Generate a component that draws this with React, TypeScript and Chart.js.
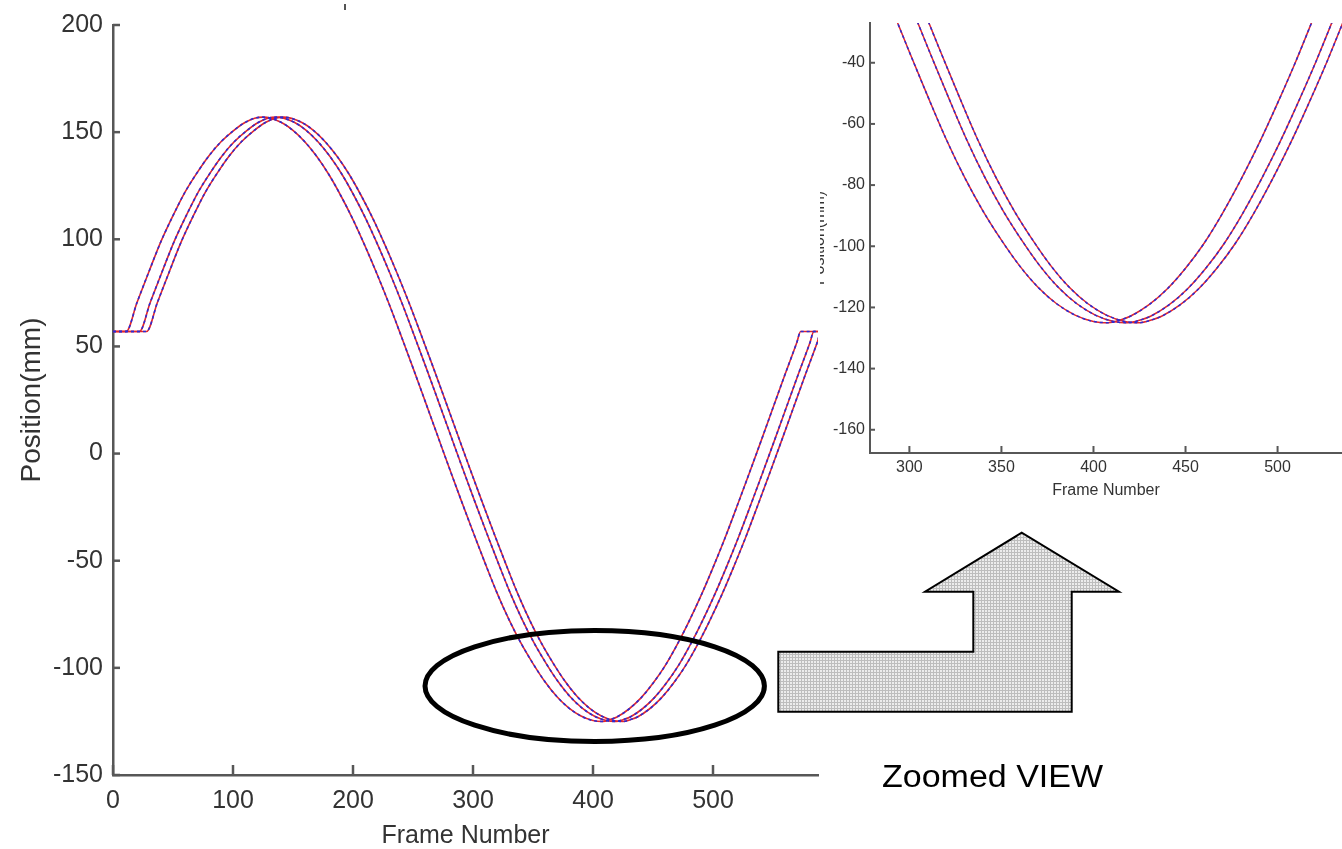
import React, { useEffect, useRef } from "react";
import { Chart, registerables } from "chart.js";

Chart.register(...registerables);

// ---- data ----
// Frame numbers at which each trajectory was sampled
const framesA = [0, 11, 20, 30, 40, 50, 60, 70, 80, 90, 100, 110, 118, 125, 140, 150, 160, 170, 180, 190, 200, 210, 220, 230, 240, 250, 260, 270, 280, 290, 300, 310, 320, 330, 340, 350, 360, 370, 380, 390, 400, 408, 415, 420, 430, 440, 450, 460, 470, 480, 490, 500, 510, 520, 530, 540, 550, 560, 570, 573, 600];
const framesB = [0, 22, 31, 41, 51, 61, 71, 81, 91, 101, 111, 121, 129, 136, 151, 161, 171, 181, 191, 201, 211, 221, 231, 241, 251, 261, 271, 281, 291, 301, 311, 321, 331, 341, 351, 361, 371, 381, 391, 401, 411, 419, 426, 431, 441, 451, 461, 471, 481, 491, 501, 511, 521, 531, 541, 551, 561, 571, 581, 584, 600];
const framesC = [0, 28, 37, 47, 57, 67, 77, 87, 97, 107, 117, 127, 135, 142, 157, 167, 177, 187, 197, 207, 217, 227, 237, 247, 257, 267, 277, 287, 297, 307, 317, 327, 337, 347, 357, 367, 377, 387, 397, 407, 417, 425, 432, 437, 447, 457, 467, 477, 487, 497, 507, 517, 527, 537, 547, 557, 567, 577, 587, 590, 600];

// Position (mm) of each trajectory at those frames
const positionA = [57, 57, 70.5, 85, 99, 111, 122, 131, 139, 145.5, 150.5, 154.5, 156.5, 157, 154.6, 150.8, 145.4, 138.5, 130.1, 120.2, 109.2, 96.9, 83.8, 69.9, 55.1, 40, 24.6, 9.1, -6.4, -21.6, -36.5, -51, -65, -77.5, -88.5, -98, -106.5, -113.5, -118.8, -122.5, -124.6, -125, -124, -122.9, -119.2, -114, -107.2, -99.1, -89.3, -78.3, -66.3, -53.2, -39.4, -24.6, -9.5, 5.8, 21.4, 36.9, 52.1, 57, 57];
const positionB = [57, 57, 70.5, 85, 99, 111, 122, 131, 139, 145.5, 150.5, 154.5, 156.5, 157, 154.6, 150.8, 145.4, 138.5, 130.1, 120.2, 109.2, 96.9, 83.8, 69.9, 55.1, 40, 24.6, 9.1, -6.4, -21.6, -36.5, -51, -65, -77.5, -88.5, -98, -106.5, -113.5, -118.8, -122.5, -124.6, -125, -124, -122.9, -119.2, -114, -107.2, -99.1, -89.3, -78.3, -66.3, -53.2, -39.4, -24.6, -9.5, 5.8, 21.4, 36.9, 52.1, 57, 57];
const positionC = [57, 57, 70.5, 85, 99, 111, 122, 131, 139, 145.5, 150.5, 154.5, 156.5, 157, 154.6, 150.8, 145.4, 138.5, 130.1, 120.2, 109.2, 96.9, 83.8, 69.9, 55.1, 40, 24.6, 9.1, -6.4, -21.6, -36.5, -51, -65, -77.5, -88.5, -98, -106.5, -113.5, -118.8, -122.5, -124.6, -125, -124, -122.9, -119.2, -114, -107.2, -99.1, -89.3, -78.3, -66.3, -53.2, -39.4, -24.6, -9.5, 5.8, 21.4, 36.9, 52.1, 57, 57];

// Tick labels
const mainXTicks = [0, 100, 200, 300, 400, 500];
const mainYTicks = [-150, -100, -50, 0, 50, 100, 150, 200];
const zoomXTicks = [300, 350, 400, 450, 500];
const zoomYTicks = [-160, -140, -120, -100, -80, -60, -40];

const FONT = "'Liberation Sans', Arial, Helvetica, sans-serif";
const AXIS = "#575757";
const TEXT = "#333333";
const RED = "#e2262c";
const BLUE = "#2b2bd4";

function buildDatasets(width: number) {
  const series: [number[], number[]][] = [
    [framesA, positionA],
    [framesB, positionB],
    [framesC, positionC],
  ];
  const blue: any[] = [];
  const red: any[] = [];
  series.forEach(([fr, vals]) => {
    const pts = fr.map((f, i) => ({ x: f, y: vals[i] }));
    red.push({
      data: pts,
      showLine: true,
      borderColor: RED,
      borderWidth: width,
      pointRadius: 0,
      cubicInterpolationMode: "monotone",
      fill: false,
    });
    blue.push({
      data: pts,
      showLine: true,
      borderColor: BLUE,
      borderWidth: width,
      borderDash: [3, 3],
      pointRadius: 0,
      cubicInterpolationMode: "monotone",
      fill: false,
    });
  });
  // first datasets are drawn on top: blue dashes over red solid
  return [...blue, ...red];
}

function inwardTicks(xLen: number, yLen: number, width: number) {
  return {
    id: "inwardTicks",
    afterDraw(chart: any) {
      const { ctx, chartArea, scales } = chart;
      ctx.save();
      ctx.strokeStyle = AXIS;
      ctx.lineWidth = width;
      scales.x.ticks.forEach((t: any) => {
        const px = scales.x.getPixelForValue(t.value);
        ctx.beginPath();
        ctx.moveTo(px, chartArea.bottom);
        ctx.lineTo(px, chartArea.bottom - xLen);
        ctx.stroke();
      });
      scales.y.ticks.forEach((t: any) => {
        const py = scales.y.getPixelForValue(t.value);
        ctx.beginPath();
        ctx.moveTo(chartArea.left, py);
        ctx.lineTo(chartArea.left + yLen, py);
        ctx.stroke();
      });
      ctx.restore();
    },
  };
}

function axisOptions(o: {
  min: number;
  max: number;
  ticks: number[];
  size: number;
  fontSize: number;
  tickPad: number;
  title: string;
  titleSize: number;
  titlePad: any;
  horizontal: boolean;
  border: number;
}) {
  return {
    type: "linear",
    min: o.min,
    max: o.max,
    grid: { display: false, drawTicks: false },
    border: { display: true, color: AXIS, width: o.border },
    ticks: {
      color: TEXT,
      font: { family: FONT, size: o.fontSize },
      padding: o.tickPad,
      autoSkip: false,
      maxRotation: 0,
      includeBounds: false,
    },
    afterBuildTicks: (s: any) => {
      s.ticks = o.ticks.map((v) => ({ value: v }));
    },
    afterFit: (s: any) => {
      if (o.horizontal) s.height = o.size;
      else s.width = o.size;
    },
    title: {
      display: true,
      text: o.title,
      color: TEXT,
      font: { family: FONT, size: o.titleSize },
      padding: o.titlePad,
    },
  };
}

export default function App() {
  const mainRef = useRef<HTMLCanvasElement>(null);
  const zoomRef = useRef<HTMLCanvasElement>(null);

  useEffect(() => {
    const main = new Chart(mainRef.current as HTMLCanvasElement, {
      type: "scatter",
      data: { datasets: buildDatasets(1.6) },
      options: {
        responsive: false,
        animation: false,
        layout: { padding: { top: 23, right: 2, bottom: 0, left: 0 } },
        plugins: { legend: { display: false }, tooltip: { enabled: false } },
        scales: {
          x: axisOptions({
            min: 0,
            max: 587.5,
            ticks: mainXTicks,
            size: 74,
            fontSize: 25,
            tickPad: 11,
            title: "Frame Number",
            titleSize: 25,
            titlePad: { top: 0, bottom: -2 },
            horizontal: true,
            border: 2.5,
          }),
          y: axisOptions({
            min: -150,
            max: 200,
            ticks: mainYTicks,
            size: 113,
            fontSize: 25,
            tickPad: 10,
            title: "Position(mm)",
            titleSize: 28,
            titlePad: { top: 15, bottom: 0 },
            horizontal: false,
            border: 2.5,
          }),
        } as any,
      },
      plugins: [inwardTicks(10, 7, 2.5)],
    } as any);

    const zoom = new Chart(zoomRef.current as HTMLCanvasElement, {
      type: "scatter",
      data: { datasets: buildDatasets(1.5) },
      options: {
        responsive: false,
        animation: false,
        layout: { padding: { top: 23, right: 0, bottom: 0, left: 0 } },
        plugins: { legend: { display: false }, tooltip: { enabled: false } },
        scales: {
          x: axisOptions({
            min: 278.6,
            max: 535,
            ticks: zoomXTicks,
            size: 57,
            fontSize: 16,
            tickPad: 5,
            title: "Frame Number",
            titleSize: 16,
            titlePad: { top: 0, bottom: 9.4 },
            horizontal: true,
            border: 2,
          }),
          y: axisOptions({
            min: -167.6,
            max: -27,
            ticks: zoomYTicks,
            size: 70,
            fontSize: 16,
            tickPad: 5,
            title: "Position(mm)",
            titleSize: 16,
            titlePad: { top: 10.4, bottom: 0 },
            horizontal: false,
            border: 2,
          }),
        } as any,
      },
      plugins: [inwardTicks(7, 5, 2)],
    } as any);

    return () => {
      main.destroy();
      zoom.destroy();
    };
  }, []);

  return (
    <div
      style={{
        position: "absolute",
        left: 0,
        top: 0,
        width: 1342,
        height: 849,
        overflow: "hidden",
        background: "#ffffff",
      }}
    >
      <canvas
        ref={zoomRef}
        width={542}
        height={510}
        style={{ position: "absolute", left: 800, top: 0, zIndex: 0 }}
      />
      <canvas
        ref={mainRef}
        width={820}
        height={849}
        style={{ position: "absolute", left: 0, top: 0, zIndex: 1, background: "#ffffff" }}
      />
      <svg
        width={1342}
        height={849}
        style={{ position: "absolute", left: 0, top: 0, zIndex: 2, pointerEvents: "none" }}
      >
        <defs>
          <pattern id="grid" width="3" height="3" patternUnits="userSpaceOnUse">
            <rect width="3" height="3" fill="#ececec" />
            <path d="M0 0.5 H3 M0.5 0 V3" stroke="#bdbdbd" strokeWidth="1" />
          </pattern>
        </defs>
        <line x1={345} y1={4} x2={345} y2={10} stroke="#555" strokeWidth={2} />
        <ellipse cx={594.7} cy={686} rx={169.7} ry={55.5} fill="none" stroke="#000" strokeWidth={5} />
        <polygon
          points="778.3,651.7 973.3,651.7 973.3,591.7 925,591.7 1021.7,532.7 1119,591.7 1071.7,591.7 1071.7,711.7 778.3,711.7"
          fill="url(#grid)"
          stroke="#000"
          strokeWidth={2}
        />
        <text
          x={882}
          y={787}
          fontFamily={FONT}
          fontSize={31}
          fill="#000"
          textLength={221}
          lengthAdjust="spacingAndGlyphs"
        >
          Zoomed VIEW
        </text>
      </svg>
    </div>
  );
}
